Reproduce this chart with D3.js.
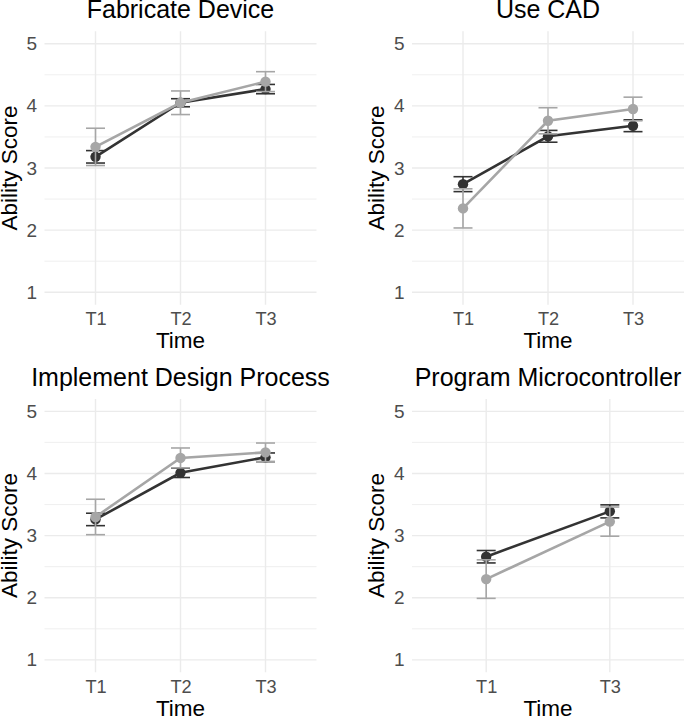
<!DOCTYPE html>
<html>
<head>
<meta charset="utf-8">
<script src="https://cdn.jsdelivr.net/npm/d3@7"></script>
<style>
  body { margin: 0; background: #fff; }
  text { font-family: "Liberation Sans", Arial, sans-serif; }
</style>
</head>
<body>
<div id="canvas"></div>
<script>
"use strict";

// Data: means and standard errors per panel
let panelTitles = ["Fabricate Device", "Use CAD", "Implement Design Process", "Program Microcontroller"];
let panelTimes = [
    ["T1", "T2", "T3"],
    ["T1", "T2", "T3"],
    ["T1", "T2", "T3"],
    ["T1", "T3"]
];
let darkMeans = [
    [3.18, 4.05, 4.27],
    [2.74, 3.51, 3.68],
    [3.26, 4.01, 4.26],
    [2.66, 3.39]
];
let darkSE = [
    [0.10, 0.065, 0.075],
    [0.12, 0.095, 0.095],
    [0.10, 0.075, 0.07],
    [0.10, 0.105]
];
let lightMeans = [
    [3.34, 4.05, 4.39],
    [2.35, 3.76, 3.95],
    [3.30, 4.25, 4.34],
    [2.30, 3.225]
];
let lightSE = [
    [0.30, 0.19, 0.16],
    [0.315, 0.21, 0.19],
    [0.285, 0.16, 0.15],
    [0.31, 0.235]
];
let yTicks = [1, 2, 3, 4, 5];
let yMinor = [1.5, 2.5, 3.5, 4.5];

/*
   Layout
*/
let svgWidth = 685;
let svgHeight = 716;

let panelW = 272;
let panelH = 273.4;
let colX = [44.5, 412];
let rowY = [31.3, 398.9];

let darkColor = "#333333";
let lightColor = "#a6a6a6";
let gridColor = "#ebebeb";

let svg = d3.select("#canvas")
    .append("svg")
    .attr("width", svgWidth)
    .attr("height", svgHeight);

let yScale = d3.scaleLinear()
    .domain([0.8, 5.2])
    .range([panelH, 0]);

panelTitles.forEach((title, p) => {
    let px = colX[p % 2];
    let py = rowY[Math.floor(p / 2)];
    let g = svg.append("g")
        .attr("transform", `translate(${px}, ${py})`);

    let xScale = d3.scalePoint()
        .domain(panelTimes[p])
        .range([0, panelW])
        .padding(0.6);

    // grid
    g.selectAll(".minor")
        .data(yMinor)
        .join("line")
        .attr("x1", 0)
        .attr("x2", panelW)
        .attr("y1", d => yScale(d))
        .attr("y2", d => yScale(d))
        .attr("stroke", gridColor)
        .attr("stroke-width", 0.8);

    g.selectAll(".major")
        .data(yTicks)
        .join("line")
        .attr("x1", 0)
        .attr("x2", panelW)
        .attr("y1", d => yScale(d))
        .attr("y2", d => yScale(d))
        .attr("stroke", gridColor)
        .attr("stroke-width", 1.4);

    g.selectAll(".vgrid")
        .data(panelTimes[p])
        .join("line")
        .attr("x1", d => xScale(d))
        .attr("x2", d => xScale(d))
        .attr("y1", 0)
        .attr("y2", panelH)
        .attr("stroke", gridColor)
        .attr("stroke-width", 1.4);

    // axes
    let yAxis = g.append("g")
        .call(d3.axisLeft(yScale).tickValues(yTicks).tickFormat(d3.format("d"))
            .tickSize(0).tickPadding(7.5));
    yAxis.select(".domain").remove();
    yAxis.selectAll("text")
        .attr("fill", "#4d4d4d")
        .style("font-size", "19px")
        .style("font-family", "Liberation Sans, Arial, sans-serif");

    let xAxis = g.append("g")
        .attr("transform", `translate(0, ${panelH})`)
        .call(d3.axisBottom(xScale).tickSize(0).tickPadding(7.3));
    xAxis.select(".domain").remove();
    xAxis.selectAll("text")
        .attr("fill", "#4d4d4d")
        .style("font-size", "18.2px")
        .style("font-family", "Liberation Sans, Arial, sans-serif");

    // titles
    g.append("text")
        .attr("x", panelW / 2)
        .attr("y", -13)
        .attr("text-anchor", "middle")
        .attr("font-size", 25)
        .attr("fill", "#000")
        .text(title);

    g.append("text")
        .attr("x", panelW / 2)
        .attr("y", panelH + 43.5)
        .attr("text-anchor", "middle")
        .attr("font-size", 22.5)
        .attr("fill", "#000")
        .text("Time");

    g.append("text")
        .attr("transform", "rotate(-90)")
        .attr("x", -panelH / 2)
        .attr("y", -27.8)
        .attr("text-anchor", "middle")
        .attr("font-size", 22.5)
        .attr("fill", "#000")
        .text("Ability Score");

    // series
    let series = [
        { means: darkMeans[p], se: darkSE[p], color: darkColor },
        { means: lightMeans[p], se: lightSE[p], color: lightColor }
    ];

    let capHalf = 9.5;

    series.forEach(s => {
        let pts = panelTimes[p].map((t, i) => ({ t: t, m: s.means[i], e: s.se[i] }));

        let bars = g.append("g");
        bars.selectAll(".stem")
            .data(pts)
            .join("line")
            .attr("x1", d => xScale(d.t))
            .attr("x2", d => xScale(d.t))
            .attr("y1", d => yScale(d.m - d.e))
            .attr("y2", d => yScale(d.m + d.e))
            .attr("stroke", s.color)
            .attr("stroke-width", 1.6);
        bars.selectAll(".capTop")
            .data(pts)
            .join("line")
            .attr("x1", d => xScale(d.t) - capHalf)
            .attr("x2", d => xScale(d.t) + capHalf)
            .attr("y1", d => yScale(d.m + d.e))
            .attr("y2", d => yScale(d.m + d.e))
            .attr("stroke", s.color)
            .attr("stroke-width", 1.6);
        bars.selectAll(".capBot")
            .data(pts)
            .join("line")
            .attr("x1", d => xScale(d.t) - capHalf)
            .attr("x2", d => xScale(d.t) + capHalf)
            .attr("y1", d => yScale(d.m - d.e))
            .attr("y2", d => yScale(d.m - d.e))
            .attr("stroke", s.color)
            .attr("stroke-width", 1.6);

        g.append("path")
            .datum(pts)
            .attr("fill", "none")
            .attr("stroke", s.color)
            .attr("stroke-width", 2.6)
            .attr("d", d3.line().x(d => xScale(d.t)).y(d => yScale(d.m)));

        g.append("g")
            .selectAll("circle")
            .data(pts)
            .join("circle")
            .attr("cx", d => xScale(d.t))
            .attr("cy", d => yScale(d.m))
            .attr("r", 5.2)
            .attr("fill", s.color);
    });
});
</script>
</body>
</html>
